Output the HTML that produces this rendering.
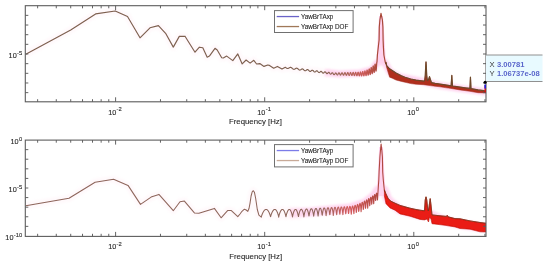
<!DOCTYPE html><html><head><meta charset="utf-8"><style>html,body{margin:0;padding:0;background:#fff;overflow:hidden}svg{display:block} text{font-family:"Liberation Sans",sans-serif;fill:#262626;stroke:#262626;stroke-width:0.1px}</style></head><body>
<svg width="550" height="270" viewBox="0 0 550 270">
<defs><clipPath id="c1"><rect x="25.3" y="5.7" width="460.7" height="96.1"/></clipPath><clipPath id="c2"><rect x="25.3" y="140.1" width="460.7" height="96.3"/></clipPath><filter id="gb" x="0" y="0" width="550" height="270" filterUnits="userSpaceOnUse"><feGaussianBlur stdDeviation="0.35"/></filter><filter id="blr2" x="-50%" y="-10%" width="200%" height="120%"><feGaussianBlur stdDeviation="0.7"/></filter><filter id="blr" x="-20%" y="-20%" width="140%" height="140%"><feGaussianBlur stdDeviation="1.2"/></filter><linearGradient id="g1" gradientUnits="userSpaceOnUse" x1="320" y1="0" x2="378" y2="0"><stop offset="0" stop-color="#7e6050"/><stop offset="0.35" stop-color="#a06a5a"/><stop offset="0.75" stop-color="#cc5a58"/><stop offset="1" stop-color="#a84838"/></linearGradient><linearGradient id="g2" gradientUnits="userSpaceOnUse" x1="320" y1="0" x2="378" y2="0"><stop offset="0" stop-color="#946a60"/><stop offset="0.5" stop-color="#d45c5c"/><stop offset="1" stop-color="#b04840"/></linearGradient></defs>
<rect width="550" height="270" fill="#fff"/>
<g filter="url(#gb)">
<g clip-path="url(#c1)">
<path d="M325.00 72.50 L340.00 74.00 L360.00 73.00 L372.00 70.00 L377.00 63.00 L380.00 62.00 L384.50 62.00 L390.00 72.00 L400.00 77.00 L420.00 81.00 L440.00 85.50 L460.00 88.50 L486.00 92.00" fill="none" stroke="#ffc6ea" stroke-width="7" stroke-linejoin="round" opacity="0.75" filter="url(#blr)"/>
<path d="M376.2 63 L377.6 40 L379 16 L383 16 L384.6 40 L386 63 Z" fill="#ffd2ee" filter="url(#blr2)"/>
<path d="M25.80 54.20 L70.70 30.00 L95.60 13.90 L115.20 11.00 L127.50 16.50 L140.00 37.80 L150.00 27.80 L158.40 25.60 L165.60 33.30 L173.30 47.10 L179.30 36.40 L185.00 36.20 L195.00 52.20 L199.40 47.20 L202.80 47.80 L207.20 57.20 L209.40 56.10 L215.00 48.30 L217.20 50.00 L221.70 57.80 L223.30 58.00 L226.70 56.10 L232.80 60.60 L237.80 53.90 L242.20 63.90 L246.10 60.00 L250.10 63.10 L253.80 60.30 L256.60 64.00 L259.80 63.60 L264.00 66.40 L267.70 65.00 L269.50 65.40 L273.70 68.20 L277.40 66.40 L282.00 69.10 L285.30 67.30 L286.00 67.71 L286.20 67.86 L286.40 68.01 L286.60 68.14 L286.80 68.25 L287.00 68.35 L287.20 68.42 L287.40 68.46 L287.60 68.48 L287.80 68.47 L288.00 68.44 L288.20 68.38 L288.40 68.31 L288.60 68.21 L288.80 68.11 L289.00 67.99 L289.20 67.87 L289.40 67.76 L289.60 67.65 L289.80 67.55 L290.00 67.48 L290.20 67.42 L290.40 67.39 L290.60 67.38 L290.80 67.41 L291.00 67.46 L291.20 67.54 L291.40 67.65 L291.60 67.78 L291.80 67.93 L292.00 68.09 L292.20 68.26 L292.40 68.44 L292.60 68.61 L292.80 68.78 L293.00 68.93 L293.20 69.06 L293.40 69.17 L293.60 69.25 L293.80 69.29 L294.00 69.31 L294.20 69.29 L294.40 69.25 L294.60 69.18 L294.80 69.08 L295.00 68.97 L295.20 68.84 L295.40 68.71 L295.60 68.58 L295.80 68.46 L296.00 68.35 L296.20 68.27 L296.40 68.21 L296.60 68.18 L296.80 68.18 L297.00 68.22 L297.20 68.30 L297.40 68.40 L297.60 68.54 L297.80 68.70 L298.00 68.87 L298.20 69.06 L298.40 69.25 L298.60 69.44 L298.80 69.61 L299.00 69.76 L299.20 69.89 L299.40 69.99 L299.60 70.04 L299.80 70.07 L300.00 70.05 L300.20 70.00 L300.40 69.92 L300.60 69.81 L300.80 69.68 L301.00 69.54 L301.20 69.39 L301.40 69.25 L301.60 69.12 L301.80 69.02 L302.00 68.95 L302.20 68.91 L302.40 68.91 L302.60 68.95 L302.80 69.04 L303.00 69.16 L303.20 69.31 L303.40 69.49 L303.60 69.68 L303.80 69.89 L304.00 70.09 L304.20 70.28 L304.40 70.45 L304.60 70.59 L304.80 70.69 L305.00 70.75 L305.20 70.76 L305.40 70.74 L305.60 70.67 L305.80 70.56 L306.00 70.43 L306.20 70.28 L306.40 70.12 L306.60 69.97 L306.80 69.82 L307.00 69.71 L307.20 69.63 L307.40 69.58 L307.60 69.59 L307.80 69.64 L308.00 69.74 L308.20 69.88 L308.40 70.05 L308.60 70.26 L308.80 70.47 L309.00 70.69 L309.20 70.90 L309.40 71.08 L309.60 71.23 L309.80 71.34 L310.00 71.40 L310.20 71.41 L310.40 71.37 L310.60 71.28 L310.80 71.15 L311.00 71.00 L311.20 70.83 L311.40 70.66 L311.60 70.50 L311.80 70.36 L312.00 70.26 L312.20 70.21 L312.40 70.21 L312.60 70.27 L312.80 70.38 L313.00 70.53 L313.20 70.73 L313.40 70.95 L313.60 71.18 L313.80 71.40 L314.00 71.61 L314.20 71.79 L314.40 71.92 L314.60 71.99 L314.80 72.01 L315.00 71.97 L315.20 71.88 L315.40 71.74 L315.60 71.57 L315.80 71.39 L316.00 71.20 L316.20 71.04 L316.40 70.90 L316.60 70.82 L316.80 70.79 L317.00 70.82 L317.20 70.92 L317.40 71.07 L317.60 71.26 L317.80 71.49 L318.00 71.74 L318.20 71.98 L318.40 72.20 L318.60 72.38 L318.80 72.51 L319.00 72.57 L319.20 72.57 L319.40 72.50 L319.60 72.38 L319.80 72.21 L320.00 72.02 L320.20 71.82 L320.40 71.63 L320.60 71.48 L320.80 71.38 L321.00 71.34 L321.20 71.37 L321.40 71.47 L321.60 71.63 L321.80 71.85 L322.00 72.09 L322.20 72.35 L322.40 72.60 L322.60 72.82 L322.80 72.98 L323.00 73.08 L323.20 73.11 L323.40 73.06 L323.60 72.94 L323.80 72.77 L324.00 72.57 L324.20 72.35 L324.40 72.15 L324.60 71.99 L324.80 71.89 L325.00 71.85 L325.20 71.90 L325.40 72.02 L325.60 72.21 L325.80 72.45 L326.00 72.72 L326.20 72.99 L326.40 73.24 L326.60 73.43 L326.80 73.56 L327.00 73.61 L327.20 73.57 L327.40 73.46 L327.60 73.28 L327.80 73.07 L328.00 72.84 L328.20 72.63 L328.40 72.46 L328.60 72.36 L328.80 72.34 L329.00 72.41 L329.20 72.57 L329.40 72.79 L329.60 73.06 L329.80 73.35 L330.00 73.62" fill="none" stroke="#ffe6f0" stroke-width="7" stroke-linejoin="round" opacity="0.25" filter="url(#blr)"/>
<path d="M25.80 54.20 L70.70 30.00 L95.60 13.90 L115.20 11.00 L127.50 16.50 L140.00 37.80 L150.00 27.80 L158.40 25.60 L165.60 33.30 L173.30 47.10 L179.30 36.40 L185.00 36.20 L195.00 52.20 L199.40 47.20 L202.80 47.80 L207.20 57.20 L209.40 56.10 L215.00 48.30 L217.20 50.00 L221.70 57.80 L223.30 58.00 L226.70 56.10 L232.80 60.60 L237.80 53.90 L242.20 63.90 L246.10 60.00 L250.10 63.10 L253.80 60.30 L256.60 64.00 L259.80 63.60 L264.00 66.40 L267.70 65.00 L269.50 65.40 L273.70 68.20 L277.40 66.40 L282.00 69.10 L285.30 67.30 L286.00 67.71 L286.20 67.86 L286.40 68.01 L286.60 68.14 L286.80 68.25 L287.00 68.35 L287.20 68.42 L287.40 68.46 L287.60 68.48 L287.80 68.47 L288.00 68.44 L288.20 68.38 L288.40 68.31 L288.60 68.21 L288.80 68.11 L289.00 67.99 L289.20 67.87 L289.40 67.76 L289.60 67.65 L289.80 67.55 L290.00 67.48 L290.20 67.42 L290.40 67.39 L290.60 67.38 L290.80 67.41 L291.00 67.46 L291.20 67.54 L291.40 67.65 L291.60 67.78 L291.80 67.93 L292.00 68.09 L292.20 68.26 L292.40 68.44 L292.60 68.61 L292.80 68.78 L293.00 68.93 L293.20 69.06 L293.40 69.17 L293.60 69.25 L293.80 69.29 L294.00 69.31 L294.20 69.29 L294.40 69.25 L294.60 69.18 L294.80 69.08 L295.00 68.97 L295.20 68.84 L295.40 68.71 L295.60 68.58 L295.80 68.46 L296.00 68.35 L296.20 68.27 L296.40 68.21 L296.60 68.18 L296.80 68.18 L297.00 68.22 L297.20 68.30 L297.40 68.40 L297.60 68.54 L297.80 68.70 L298.00 68.87 L298.20 69.06 L298.40 69.25 L298.60 69.44 L298.80 69.61 L299.00 69.76 L299.20 69.89 L299.40 69.99 L299.60 70.04 L299.80 70.07 L300.00 70.05 L300.20 70.00 L300.40 69.92 L300.60 69.81 L300.80 69.68 L301.00 69.54 L301.20 69.39 L301.40 69.25 L301.60 69.12 L301.80 69.02 L302.00 68.95 L302.20 68.91 L302.40 68.91 L302.60 68.95 L302.80 69.04 L303.00 69.16 L303.20 69.31 L303.40 69.49 L303.60 69.68 L303.80 69.89 L304.00 70.09 L304.20 70.28 L304.40 70.45 L304.60 70.59 L304.80 70.69 L305.00 70.75 L305.20 70.76 L305.40 70.74 L305.60 70.67 L305.80 70.56 L306.00 70.43 L306.20 70.28 L306.40 70.12 L306.60 69.97 L306.80 69.82 L307.00 69.71 L307.20 69.63 L307.40 69.58 L307.60 69.59 L307.80 69.64 L308.00 69.74 L308.20 69.88 L308.40 70.05 L308.60 70.26 L308.80 70.47 L309.00 70.69 L309.20 70.90 L309.40 71.08 L309.60 71.23 L309.80 71.34 L310.00 71.40 L310.20 71.41 L310.40 71.37 L310.60 71.28 L310.80 71.15 L311.00 71.00 L311.20 70.83 L311.40 70.66 L311.60 70.50 L311.80 70.36 L312.00 70.26 L312.20 70.21 L312.40 70.21 L312.60 70.27 L312.80 70.38 L313.00 70.53 L313.20 70.73 L313.40 70.95 L313.60 71.18 L313.80 71.40 L314.00 71.61 L314.20 71.79 L314.40 71.92 L314.60 71.99 L314.80 72.01 L315.00 71.97 L315.20 71.88 L315.40 71.74 L315.60 71.57 L315.80 71.39 L316.00 71.20 L316.20 71.04 L316.40 70.90 L316.60 70.82 L316.80 70.79 L317.00 70.82 L317.20 70.92 L317.40 71.07 L317.60 71.26 L317.80 71.49 L318.00 71.74 L318.20 71.98 L318.40 72.20 L318.60 72.38 L318.80 72.51 L319.00 72.57 L319.20 72.57 L319.40 72.50 L319.60 72.38 L319.80 72.21 L320.00 72.02 L320.20 71.82 L320.40 71.63 L320.60 71.48 L320.80 71.38 L321.00 71.34" fill="none" stroke="#7e6050" stroke-width="1.15" stroke-linejoin="round"/>
<path d="M321.00 71.34 L321.20 71.37 L321.40 71.47 L321.60 71.63 L321.80 71.85 L322.00 72.09 L322.20 72.35 L322.40 72.60 L322.60 72.82 L322.80 72.98 L323.00 73.08 L323.20 73.11 L323.40 73.06 L323.60 72.94 L323.80 72.77 L324.00 72.57 L324.20 72.35 L324.40 72.15 L324.60 71.99 L324.80 71.89 L325.00 71.85 L325.20 71.90 L325.40 72.02 L325.60 72.21 L325.80 72.45 L326.00 72.72 L326.20 72.99 L326.40 73.24 L326.60 73.43 L326.80 73.56 L327.00 73.61 L327.20 73.57 L327.40 73.46 L327.60 73.28 L327.80 73.07 L328.00 72.84 L328.20 72.63 L328.40 72.46 L328.60 72.36 L328.80 72.34 L329.00 72.41 L329.20 72.57 L329.40 72.79 L329.60 73.06 L329.80 73.35 L330.00 73.62 L330.20 73.85 L330.40 74.02 L330.60 74.10 L330.80 74.08 L331.00 73.98 L331.20 73.79 L331.40 73.55 L331.60 73.29 L331.80 73.04 L332.00 72.85 L332.20 72.74 L332.40 72.73 L332.60 72.82 L332.80 73.03 L333.00 73.31 L333.20 73.65 L333.40 73.99 L333.60 74.30 L333.80 74.53 L334.00 74.66 L334.20 74.67 L334.40 74.56 L334.60 74.34 L334.80 74.05 L335.00 73.73 L335.20 73.40 L335.40 73.13 L335.60 72.97 L335.80 72.94 L336.00 73.05 L336.20 73.29 L336.40 73.62 L336.60 74.00 L336.80 74.37 L337.00 74.68 L337.20 74.88 L337.40 74.94 L337.60 74.84 L337.80 74.59 L338.00 74.24 L338.20 73.84 L338.40 73.43 L338.60 73.10 L338.80 72.89 L339.00 72.83 L339.20 72.95 L339.40 73.23 L339.60 73.62 L339.80 74.06 L340.00 74.49 L340.20 74.84 L340.40 75.03 L340.60 75.05 L340.80 74.88 L341.00 74.55 L341.20 74.11 L341.40 73.63 L341.60 73.19 L341.80 72.88 L342.00 72.73 L342.20 72.80 L342.40 73.06 L342.60 73.47 L342.80 73.98 L343.00 74.48 L343.20 74.90 L343.40 75.15 L343.60 75.18 L343.80 74.99 L344.00 74.61 L344.20 74.10 L344.40 73.55 L344.60 73.07 L344.80 72.74 L345.00 72.63 L345.20 72.77 L345.40 73.13 L345.60 73.65 L345.80 74.24 L346.00 74.78 L346.20 75.16 L346.40 75.31 L346.60 75.20 L346.80 74.85 L347.00 74.31 L347.20 73.69 L347.40 73.12 L347.60 72.70 L347.80 72.54 L348.00 72.66 L348.20 73.05 L348.40 73.63 L348.60 74.28 L348.80 74.88 L349.00 75.29 L349.20 75.43 L349.40 75.26 L349.60 74.81 L349.80 74.18 L350.00 73.49 L350.20 72.90 L350.40 72.54 L350.60 72.48 L350.80 72.76 L351.00 73.30 L351.20 73.99 L351.40 74.68 L351.60 75.22 L351.80 75.48 L352.00 75.41 L352.20 75.00 L352.40 74.36 L352.60 73.62 L352.80 72.96 L353.00 72.53 L353.20 72.43 L353.40 72.70 L353.60 73.27 L353.80 74.02 L354.00 74.77 L354.20 75.34 L354.40 75.59 L354.60 75.45 L354.80 74.94 L355.00 74.20 L355.20 73.39 L355.40 72.71 L355.60 72.35 L355.80 72.40 L356.00 72.85 L356.20 73.60 L356.40 74.46 L356.60 75.22 L356.80 75.67 L357.00 75.69 L357.20 75.26 L357.40 74.50 L357.60 73.58 L357.80 72.76 L358.00 72.26 L358.20 72.22 L358.40 72.66 L358.60 73.48 L358.80 74.45 L359.00 75.32 L359.20 75.83 L359.40 75.84 L359.60 75.33 L359.80 74.42 L360.00 73.37 L360.20 72.47 L360.40 71.98 L360.60 72.05 L360.80 72.67 L361.00 73.67 L361.20 74.77 L361.40 75.63 L361.60 75.99 L361.80 75.72 L362.00 74.89 L362.20 73.72 L362.40 72.56 L362.60 71.74 L362.80 71.53 L363.00 72.00 L363.20 73.01 L363.40 74.25 L363.60 75.33 L363.80 75.89 L364.00 75.73 L364.20 74.87 L364.40 73.55 L364.60 72.18 L364.80 71.18 L365.00 70.88 L365.20 71.38 L365.40 72.52 L365.60 73.92 L365.80 75.11 L366.00 75.66 L366.20 75.35 L366.40 74.24 L366.60 72.67 L366.80 71.14 L367.00 70.16 L367.20 70.06 L367.40 70.88 L367.60 72.32 L367.80 73.87 L368.00 74.96 L368.20 75.16 L368.40 74.34 L368.60 72.74 L368.80 70.89 L369.00 69.42 L369.20 68.85 L369.40 69.37 L369.60 70.79 L369.80 72.57 L370.00 74.01 L370.20 74.53 L370.40 73.85 L370.60 72.18 L370.80 70.06 L371.00 68.27 L371.20 67.46 L371.40 67.92 L371.60 69.45 L371.80 71.45 L372.00 73.07 L372.20 73.62 L372.40 72.79 L372.60 70.83 L372.80 68.43 L373.00 66.51 L373.20 65.79 L373.40 66.55 L373.60 68.43 L373.80 70.64 L374.00 72.20 L374.20 72.36 L374.40 70.96 L374.60 68.47 L374.80 65.86 L375.00 64.16 L375.20 64.05 L375.40 65.54 L375.60 67.94 L375.80 70.16 L376.00 71.12 L376.20 70.30 L376.40 67.91 L376.60 64.90 L376.80 62.51 L377.00 61.74 L377.40 55.00 L378.30 47.00 L379.10 40.00 L379.30 27.00 L379.90 20.00 L381.00 13.30 L382.40 20.00 L382.90 27.00 L383.10 40.00 L383.40 47.00 L383.90 55.00 L385.00 61.00 L385.80 64.00" fill="none" stroke="url(#g1)" stroke-width="1.2" stroke-linejoin="round"/>
<path d="M385.80 62.00 L386.70 65.60 L389.60 68.80 L392.30 70.60 L396.00 73.00 L401.50 75.90 L405.00 77.20 L410.80 79.00 L416.00 80.10 L423.70 81.10 L424.70 80.60 L425.30 75.00 L425.70 66.00 L426.00 61.90 L426.30 66.00 L426.70 75.00 L427.40 80.60 L428.60 79.50 L429.50 76.60 L430.40 79.50 L431.50 82.60 L435.00 83.30 L440.00 84.10 L445.00 84.80 L451.10 85.80 L451.50 80.00 L451.80 75.40 L452.10 80.00 L452.50 86.00 L455.00 86.40 L460.00 87.10 L465.00 87.80 L469.90 88.40 L470.20 82.00 L470.45 77.20 L470.70 82.00 L471.00 88.60 L478.00 89.90 L484.00 90.70 L487.00 91.00 L487.00 93.00 L478.00 92.70 L470.00 91.30 L460.00 89.90 L450.00 88.30 L445.00 87.60 L440.00 86.80 L435.00 86.20 L430.00 85.60 L423.70 84.70 L416.00 84.20 L410.80 83.60 L401.50 81.40 L396.00 80.00 L392.30 78.20 L389.60 77.20 L388.00 72.00 L386.50 67.00Z" fill="#b02e1e" stroke="#a02c1c" stroke-width="0.5" stroke-linejoin="round"/>
<path d="M385.80 62.00 L386.70 65.60 L389.60 68.80 L392.30 70.60 L396.00 73.00 L401.50 75.90 L405.00 77.20 L410.80 79.00 L416.00 80.10 L423.70 81.10 L424.70 80.60 L425.30 75.00 L425.70 66.00 L426.00 61.90 L426.30 66.00 L426.70 75.00 L427.40 80.60 L428.60 79.50 L429.50 76.60 L430.40 79.50 L431.50 82.60 L435.00 83.30 L440.00 84.10 L445.00 84.80 L451.10 85.80 L451.50 80.00 L451.80 75.40 L452.10 80.00 L452.50 86.00 L455.00 86.40 L460.00 87.10 L465.00 87.80 L469.90 88.40 L470.20 82.00 L470.45 77.20 L470.70 82.00 L471.00 88.60 L478.00 89.90 L484.00 90.70 L487.00 91.00" fill="none" stroke="#6e4a2c" stroke-width="1.2" stroke-linejoin="round"/>
</g>
<g clip-path="url(#c2)">
<path d="M290.00 213.00 L310.00 212.00 L330.00 210.00 L350.00 208.00 L365.00 203.00 L374.00 196.00 L378.00 190.00 L384.00 190.00 L388.00 200.00 L400.00 210.00 L420.00 215.00 L430.00 214.00 L445.00 221.00 L465.00 225.00 L486.00 228.00" fill="none" stroke="#ffc6ea" stroke-width="9" stroke-linejoin="round" opacity="0.7" filter="url(#blr)"/>
<path d="M376.2 196 L377.8 175 L379.2 147 L383 147 L384.4 175 L386 196 Z" fill="#ffd2ee" filter="url(#blr2)"/>
<path d="M25.80 205.80 L69.00 198.20 L95.10 182.20 L113.60 179.20 L128.00 185.40 L140.50 204.40 L151.10 197.10 L158.90 194.40 L173.30 210.70 L180.00 201.80 L184.40 201.10 L194.40 212.90 L198.90 213.30 L214.40 208.40 L221.10 217.80 L227.80 210.40 L231.10 210.40 L237.80 216.70 L240.00 214.00 L242.00 211.30 L244.40 209.20 L246.20 210.00 L247.80 211.40 L249.00 208.50 L250.00 203.30 L251.10 196.00 L252.20 191.80 L253.30 190.70 L254.40 192.20 L255.60 198.00 L256.50 204.00 L257.30 209.50 L258.90 215.20 L261.30 217.09 L261.50 216.25 L261.70 215.58 L261.90 214.99 L262.10 214.46 L262.30 213.96 L262.50 213.50 L262.70 213.06 L262.90 212.65 L263.10 212.27 L263.30 211.91 L263.50 211.57 L263.70 211.26 L263.90 210.97 L264.10 210.70 L264.30 210.46 L264.50 210.24 L264.70 210.05 L264.90 209.88 L265.10 209.73 L265.30 209.62 L265.50 209.52 L265.70 209.45 L265.90 209.41 L266.10 209.40 L266.30 209.41 L266.50 209.45 L266.70 209.52 L266.90 209.62 L267.10 209.74 L267.30 209.89 L267.50 210.07 L267.70 210.28 L267.90 210.51 L268.10 210.77 L268.30 211.07 L268.50 211.39 L268.70 211.74 L268.90 212.12 L269.10 212.53 L269.30 212.97 L269.50 213.44 L269.70 213.96 L269.90 214.52 L270.10 215.13 L270.30 215.82 L270.50 216.68 L270.70 216.43 L270.90 215.62 L271.10 214.95 L271.30 214.34 L271.50 213.78 L271.70 213.27 L271.90 212.79 L272.10 212.34 L272.30 211.93 L272.50 211.54 L272.70 211.19 L272.90 210.86 L273.10 210.57 L273.30 210.31 L273.50 210.08 L273.70 209.88 L273.90 209.72 L274.10 209.59 L274.30 209.49 L274.50 209.43 L274.70 209.40 L274.90 209.41 L275.10 209.45 L275.30 209.53 L275.50 209.64 L275.70 209.79 L275.90 209.97 L276.10 210.20 L276.30 210.45 L276.50 210.75 L276.70 211.08 L276.90 211.44 L277.10 211.85 L277.30 212.29 L277.50 212.77 L277.70 213.30 L277.90 213.87 L278.10 214.49 L278.30 215.19 L278.50 216.00 L278.70 217.16 L278.90 216.01 L279.10 215.20 L279.30 214.49 L279.50 213.85 L279.70 213.27 L279.90 212.73 L280.10 212.23 L280.30 211.78 L280.50 211.36 L280.70 210.98 L280.90 210.64 L281.10 210.34 L281.30 210.08 L281.50 209.86 L281.70 209.68 L281.90 209.55 L282.10 209.46 L282.30 209.41 L282.50 209.40 L282.70 209.44 L282.90 209.53 L283.10 209.66 L283.30 209.83 L283.50 210.05 L283.70 210.31 L283.90 210.62 L284.10 210.98 L284.30 211.38 L284.50 211.82 L284.70 212.32 L284.90 212.86 L285.10 213.46 L285.30 214.12 L285.50 214.85 L285.70 215.69 L285.90 216.76 L286.10 216.14 L286.30 215.21 L286.50 214.43 L286.70 213.73 L286.90 213.09 L287.10 212.51 L287.30 211.98 L287.50 211.50 L287.70 211.06 L287.90 210.68 L288.10 210.34 L288.30 210.06 L288.50 209.82 L288.70 209.64 L288.90 209.50 L289.10 209.43 L289.30 209.40 L289.50 209.43 L289.70 209.51 L289.90 209.65 L290.10 209.84 L290.30 210.09 L290.50 210.40 L290.70 210.75 L290.90 211.17 L291.10 211.64 L291.30 212.17 L291.50 212.76 L291.70 213.41 L291.90 214.13 L292.10 214.94 L292.30 215.90 L292.50 216.98 L292.70 215.71 L292.90 214.78 L293.10 213.98 L293.30 213.25 L293.50 212.60 L293.70 212.01 L293.90 211.48 L294.10 211.01 L294.30 210.59 L294.50 210.24 L294.70 209.95 L294.90 209.72 L295.10 209.55 L295.30 209.44 L295.50 209.40 L295.70 209.42 L295.90 209.51 L296.10 209.67 L296.30 209.89 L296.50 210.18 L296.70 210.53 L296.90 210.96 L297.10 211.44 L297.30 212.00 L297.50 212.62 L297.70 213.32 L297.90 214.11 L298.10 215.00 L298.30 216.07 L298.50 216.58 L298.70 215.37 L298.90 214.42 L299.10 213.59 L299.30 212.84 L299.50 212.18 L299.70 211.58 L299.90 211.06" fill="none" stroke="#ffe6f0" stroke-width="7" stroke-linejoin="round" opacity="0.25" filter="url(#blr)"/>
<path d="M25.80 205.80 L69.00 198.20 L95.10 182.20 L113.60 179.20 L128.00 185.40 L140.50 204.40 L151.10 197.10 L158.90 194.40 L173.30 210.70 L180.00 201.80 L184.40 201.10 L194.40 212.90 L198.90 213.30 L214.40 208.40 L221.10 217.80 L227.80 210.40 L231.10 210.40 L237.80 216.70 L240.00 214.00 L242.00 211.30 L244.40 209.20 L246.20 210.00 L247.80 211.40 L249.00 208.50 L250.00 203.30 L251.10 196.00 L252.20 191.80 L253.30 190.70 L254.40 192.20 L255.60 198.00 L256.50 204.00 L257.30 209.50 L258.90 215.20 L261.30 217.09 L261.50 216.25 L261.70 215.58 L261.90 214.99 L262.10 214.46 L262.30 213.96 L262.50 213.50 L262.70 213.06 L262.90 212.65 L263.10 212.27 L263.30 211.91 L263.50 211.57 L263.70 211.26 L263.90 210.97 L264.10 210.70 L264.30 210.46 L264.50 210.24 L264.70 210.05 L264.90 209.88 L265.10 209.73 L265.30 209.62 L265.50 209.52 L265.70 209.45 L265.90 209.41 L266.10 209.40 L266.30 209.41 L266.50 209.45 L266.70 209.52 L266.90 209.62 L267.10 209.74 L267.30 209.89 L267.50 210.07 L267.70 210.28 L267.90 210.51 L268.10 210.77 L268.30 211.07 L268.50 211.39 L268.70 211.74 L268.90 212.12 L269.10 212.53 L269.30 212.97 L269.50 213.44 L269.70 213.96 L269.90 214.52 L270.10 215.13 L270.30 215.82 L270.50 216.68 L270.70 216.43 L270.90 215.62 L271.10 214.95 L271.30 214.34 L271.50 213.78 L271.70 213.27 L271.90 212.79 L272.10 212.34 L272.30 211.93 L272.50 211.54 L272.70 211.19 L272.90 210.86 L273.10 210.57 L273.30 210.31 L273.50 210.08 L273.70 209.88 L273.90 209.72 L274.10 209.59 L274.30 209.49 L274.50 209.43 L274.70 209.40 L274.90 209.41 L275.10 209.45 L275.30 209.53 L275.50 209.64 L275.70 209.79 L275.90 209.97 L276.10 210.20 L276.30 210.45 L276.50 210.75 L276.70 211.08 L276.90 211.44 L277.10 211.85 L277.30 212.29 L277.50 212.77 L277.70 213.30 L277.90 213.87 L278.10 214.49 L278.30 215.19 L278.50 216.00 L278.70 217.16 L278.90 216.01 L279.10 215.20 L279.30 214.49 L279.50 213.85 L279.70 213.27 L279.90 212.73 L280.10 212.23 L280.30 211.78 L280.50 211.36 L280.70 210.98 L280.90 210.64 L281.10 210.34 L281.30 210.08 L281.50 209.86 L281.70 209.68 L281.90 209.55 L282.10 209.46 L282.30 209.41 L282.50 209.40 L282.70 209.44 L282.90 209.53 L283.10 209.66 L283.30 209.83 L283.50 210.05 L283.70 210.31 L283.90 210.62 L284.10 210.98 L284.30 211.38 L284.50 211.82 L284.70 212.32 L284.90 212.86 L285.10 213.46 L285.30 214.12 L285.50 214.85 L285.70 215.69 L285.90 216.76 L286.10 216.14 L286.30 215.21 L286.50 214.43 L286.70 213.73 L286.90 213.09 L287.10 212.51 L287.30 211.98 L287.50 211.50 L287.70 211.06 L287.90 210.68 L288.10 210.34 L288.30 210.06 L288.50 209.82 L288.70 209.64 L288.90 209.50 L289.10 209.43 L289.30 209.40 L289.50 209.43 L289.70 209.51 L289.90 209.65 L290.10 209.84 L290.30 210.09 L290.50 210.40 L290.70 210.75 L290.90 211.17 L291.10 211.64 L291.30 212.17 L291.50 212.76 L291.70 213.41 L291.90 214.13 L292.10 214.94 L292.30 215.90 L292.50 216.98 L292.70 215.71 L292.90 214.78 L293.10 213.98 L293.30 213.25 L293.50 212.60 L293.70 212.01 L293.90 211.48 L294.10 211.01 L294.30 210.59 L294.50 210.24 L294.70 209.95 L294.90 209.72 L295.10 209.55 L295.30 209.44 L295.50 209.40 L295.70 209.42 L295.90 209.51 L296.10 209.67 L296.30 209.89 L296.50 210.18 L296.70 210.53 L296.90 210.96 L297.10 211.44 L297.30 212.00 L297.50 212.62 L297.70 213.32 L297.90 214.11 L298.10 215.00 L298.30 216.07 L298.50 216.58 L298.70 215.37 L298.90 214.42 L299.10 213.59 L299.30 212.84 L299.50 212.18 L299.70 211.58 L299.90 211.06 L300.10 210.60 L300.30 210.20 L300.50 209.88 L300.70 209.63 L300.90 209.45 L301.10 209.35 L301.30 209.33 L301.50 209.38 L301.70 209.51 L301.90 209.73 L302.10 210.01 L302.30 210.38 L302.50 210.83 L302.70 211.36 L302.90 211.97 L303.10 212.66 L303.30 213.44 L303.50 214.34 L303.70 215.38 L303.90 216.86 L304.10 215.47 L304.30 214.37 L304.50 213.44 L304.70 212.61 L304.90 211.87 L305.10 211.21 L305.30 210.64 L305.50 210.16 L305.70 209.75 L305.90 209.43 L306.10 209.20 L306.30 209.06 L306.50 209.01 L306.70 209.05 L306.90 209.18 L307.10 209.41 L307.30 209.72 L307.50 210.13 L307.70 210.63 L307.90 211.23 L308.10 211.92 L308.30 212.71 L308.50 213.62 L308.70 214.68 L308.90 216.01 L309.10 215.55 L309.30 214.30 L309.50 213.26 L309.70 212.36 L309.90 211.56 L310.10 210.86 L310.30 210.25 L310.50 209.75 L310.70 209.34 L310.90 209.03 L311.10 208.83 L311.30 208.73 L311.50 208.73 L311.70 208.85 L311.90 209.07 L312.10 209.40 L312.30 209.83 L312.50 210.37 L312.70 211.03 L312.90 211.79 L313.10 212.67 L313.30 213.69 L313.50 214.91 L313.70 216.24 L313.90 214.62 L314.10 213.41 L314.30 212.39 L314.50 211.49 L314.70 210.72 L314.90 210.05 L315.10 209.50 L315.30 209.06 L315.50 208.73 L315.70 208.53 L315.90 208.45 L316.10 208.49 L316.30 208.65 L316.50 208.93 L316.70 209.34 L316.90 209.88 L317.10 210.53 L317.30 211.32 L317.50 212.23 L317.70 213.30 L317.90 214.59 L318.10 216.08 L318.30 214.33 L318.50 213.06 L318.70 211.98 L318.90 211.05 L319.10 210.25 L319.30 209.58 L319.50 209.03 L319.70 208.62 L319.90 208.35 L320.10 208.21 L320.30 208.21 L320.50 208.35 L320.70 208.63 L320.90 209.05" fill="none" stroke="#8e665c" stroke-width="1.05" stroke-linejoin="round"/>
<path d="M320.90 209.05 L321.10 209.61 L321.30 210.32 L321.50 211.16 L321.70 212.17 L321.90 213.35 L322.10 214.81 L322.30 215.16 L322.50 213.58 L322.70 212.32 L322.90 211.25 L323.10 210.33 L323.30 209.56 L323.50 208.94 L323.70 208.47 L323.90 208.14 L324.10 207.97 L324.30 207.96 L324.50 208.11 L324.70 208.42 L324.90 208.89 L325.10 209.51 L325.30 210.30 L325.50 211.25 L325.70 212.38 L325.90 213.73 L326.10 215.60 L326.30 214.05 L326.50 212.59 L326.70 211.38 L326.90 210.36 L327.10 209.50 L327.30 208.81 L327.50 208.28 L327.70 207.93 L327.90 207.74 L328.10 207.74 L328.30 207.91 L328.50 208.27 L328.70 208.80 L328.90 209.51 L329.10 210.40 L329.30 211.48 L329.50 212.77 L329.70 214.39 L329.90 214.63 L330.10 212.92 L330.30 211.56 L330.50 210.41 L330.70 209.46 L330.90 208.70 L331.10 208.12 L331.30 207.72 L331.50 207.53 L331.70 207.53 L331.90 207.73 L332.10 208.13 L332.30 208.73 L332.50 209.53 L332.70 210.54 L332.90 211.75 L333.10 213.24 L333.30 215.33 L333.50 213.48 L333.70 211.91 L333.90 210.62 L334.10 209.55 L334.30 208.68 L334.50 208.02 L334.70 207.57 L334.90 207.34 L335.10 207.32 L335.30 207.53 L335.50 207.96 L335.70 208.61 L335.90 209.48 L336.10 210.57 L336.30 211.91 L336.50 213.58 L336.70 214.65 L336.90 212.65 L337.10 211.13 L337.30 209.88 L337.50 208.87 L337.70 208.07 L337.90 207.51 L338.10 207.19 L338.30 207.11 L338.50 207.27 L338.70 207.68 L338.90 208.33 L339.10 209.22 L339.30 210.36 L339.50 211.77 L339.70 213.55 L339.90 214.22 L340.10 212.23 L340.30 210.69 L340.50 209.43 L340.70 208.43 L340.90 207.67 L341.10 207.17 L341.30 206.94 L341.50 206.97 L341.70 207.27 L341.90 207.84 L342.10 208.67 L342.30 209.78 L342.50 211.17 L342.70 212.91 L342.90 214.63 L343.10 212.35 L343.30 210.68 L343.50 209.34 L343.70 208.27 L343.90 207.48 L344.10 206.97 L344.30 206.75 L344.50 206.82 L344.70 207.18 L344.90 207.84 L345.10 208.79 L345.30 210.04 L345.50 211.61 L345.70 213.66 L345.90 213.31 L346.10 211.33 L346.30 209.77 L346.50 208.52 L346.70 207.58 L346.90 206.94 L347.10 206.61 L347.30 206.60 L347.50 206.91 L347.70 207.54 L347.90 208.49 L348.10 209.76 L348.30 211.38 L348.50 213.51 L348.70 213.10 L348.90 211.05 L349.10 209.45 L349.30 208.20 L349.50 207.27 L349.70 206.67 L349.90 206.41 L350.10 206.51 L350.30 206.94 L350.50 207.72 L350.70 208.85 L350.90 210.33 L351.10 212.24 L351.30 214.21 L351.50 211.64 L351.70 209.78 L351.90 208.31 L352.10 207.20 L352.30 206.44 L352.50 206.05 L352.70 206.04 L352.90 206.41 L353.10 207.17 L353.30 208.31 L353.50 209.85 L353.70 211.86 L353.90 213.65 L354.10 210.98 L354.30 209.03 L354.50 207.50 L354.70 206.36 L354.90 205.62 L355.10 205.29 L355.30 205.38 L355.50 205.89 L355.70 206.83 L355.90 208.20 L356.10 210.02 L356.30 212.52 L356.50 211.43 L356.70 209.09 L356.90 207.27 L357.10 205.89 L357.30 204.94 L357.50 204.44 L357.70 204.41 L357.90 204.83 L358.10 205.73 L358.30 207.08 L358.50 208.93 L358.70 211.45 L358.90 210.72 L359.10 208.22 L359.30 206.29 L359.50 204.85 L359.70 203.88 L359.90 203.40 L360.10 203.42 L360.30 203.94 L360.50 204.97 L360.70 206.51 L360.90 208.59 L361.10 211.71 L361.30 208.73 L361.50 206.36 L361.70 204.55 L361.90 203.25 L362.10 202.47 L362.30 202.23 L362.50 202.53 L362.70 203.37 L362.90 204.75 L363.10 206.69 L363.30 209.39 L363.50 208.43 L363.70 205.76 L363.90 203.75 L364.10 202.28 L364.30 201.38 L364.50 201.04 L364.70 201.29 L364.90 202.12 L365.10 203.52 L365.30 205.51 L365.50 208.32 L365.70 207.01 L365.90 204.32 L366.10 202.30 L366.30 200.87 L366.50 200.03 L366.70 199.81 L366.90 200.20 L367.10 201.20 L367.30 202.81 L367.50 205.07 L367.70 208.17 L367.90 204.54 L368.10 202.09 L368.30 200.28 L368.50 199.10 L368.70 198.56 L368.90 198.66 L369.10 199.41 L369.30 200.79 L369.50 202.83 L369.70 205.76 L369.90 204.07 L370.10 201.34 L370.30 199.34 L370.50 197.98 L370.70 197.29 L370.90 197.28 L371.10 197.94 L371.30 199.27 L371.50 201.26 L371.70 204.16 L371.90 202.69 L372.10 199.92 L372.30 197.90 L372.50 196.56 L372.70 195.92 L372.90 195.97 L373.10 196.73 L373.30 198.17 L373.50 200.32 L373.70 203.65 L373.90 200.40 L374.10 197.84 L374.30 196.02 L374.50 194.89 L374.70 194.49 L374.90 194.81 L375.10 195.85 L375.30 197.59 L375.50 200.13 L375.70 200.49 L375.90 197.46 L376.10 195.31 L376.30 193.88 L376.50 193.18 L376.70 193.22 L376.90 194.00 L377.10 195.50 L377.30 197.76 L377.50 199.95 L377.70 196.55 L378.30 187.00 L378.80 180.00 L379.10 172.00 L379.90 157.00 L380.50 150.00 L381.10 144.00 L381.80 150.00 L382.40 157.00 L382.70 172.00 L383.30 180.00 L384.00 187.00 L384.60 192.00" fill="none" stroke="url(#g2)" stroke-width="1.1" stroke-linejoin="round"/>
<path d="M384.40 189.90 L385.80 193.60 L388.00 198.20 L390.50 201.00 L395.00 203.20 L400.00 205.40 L405.00 206.80 L410.00 208.20 L415.00 209.30 L420.00 210.20 L424.50 210.80 L425.20 200.00 L426.00 196.80 L426.80 200.00 L427.60 208.00 L428.40 211.00 L429.40 204.00 L430.20 198.60 L431.00 205.00 L432.00 214.90 L440.00 215.80 L446.50 216.40 L447.20 215.30 L448.00 216.80 L455.00 218.60 L460.00 218.80 L470.00 220.90 L480.00 222.50 L487.00 223.40 L487.00 232.00 L480.00 231.80 L470.00 229.20 L460.00 228.50 L455.00 226.90 L445.00 225.30 L432.00 223.70 L431.00 219.00 L429.50 217.00 L428.50 222.00 L427.00 219.00 L424.50 219.90 L420.00 219.40 L410.00 216.20 L400.00 213.90 L395.00 210.20 L390.00 207.90 L386.00 203.70 L384.40 196.00Z" fill="#ea1a12" stroke="#c01810" stroke-width="0.6" stroke-linejoin="round"/>
<path d="M384.40 189.90 L385.80 193.60 L388.00 198.20 L390.50 201.00 L395.00 203.20 L400.00 205.40 L405.00 206.80 L410.00 208.20 L415.00 209.30 L420.00 210.20 L424.50 210.80 L425.20 200.00 L426.00 196.80 L426.80 200.00 L427.60 208.00 L428.40 211.00 L429.40 204.00 L430.20 198.60 L431.00 205.00 L432.00 214.90 L440.00 215.80 L446.50 216.40 L447.20 215.30 L448.00 216.80 L455.00 218.60 L460.00 218.80 L470.00 220.90 L480.00 222.50 L487.00 223.40" fill="none" stroke="#7a3a20" stroke-width="0.8" stroke-linejoin="round"/>
</g>
<rect x="25.30" y="5.70" width="460.70" height="96.10" fill="none" stroke="#5c5c5c" stroke-width="1.1"/>
<path d="M37.64 101.80v-2.6M37.64 5.70v2.6M56.27 101.80v-2.6M56.27 5.70v2.6M70.72 101.80v-2.6M70.72 5.70v2.6M82.52 101.80v-2.6M82.52 5.70v2.6M92.50 101.80v-2.6M92.50 5.70v2.6M101.15 101.80v-2.6M101.15 5.70v2.6M108.78 101.80v-2.6M108.78 5.70v2.6M115.60 101.80v-4.5M115.60 5.70v4.5M160.48 101.80v-2.6M160.48 5.70v2.6M186.74 101.80v-2.6M186.74 5.70v2.6M205.37 101.80v-2.6M205.37 5.70v2.6M219.82 101.80v-2.6M219.82 5.70v2.6M231.62 101.80v-2.6M231.62 5.70v2.6M241.60 101.80v-2.6M241.60 5.70v2.6M250.25 101.80v-2.6M250.25 5.70v2.6M257.88 101.80v-2.6M257.88 5.70v2.6M264.70 101.80v-4.5M264.70 5.70v4.5M309.58 101.80v-2.6M309.58 5.70v2.6M335.84 101.80v-2.6M335.84 5.70v2.6M354.47 101.80v-2.6M354.47 5.70v2.6M368.92 101.80v-2.6M368.92 5.70v2.6M380.72 101.80v-2.6M380.72 5.70v2.6M390.70 101.80v-2.6M390.70 5.70v2.6M399.35 101.80v-2.6M399.35 5.70v2.6M406.98 101.80v-2.6M406.98 5.70v2.6M413.80 101.80v-4.5M413.80 5.70v4.5M458.68 101.80v-2.6M458.68 5.70v2.6M484.94 101.80v-2.6M484.94 5.70v2.6M25.30 92.64h3.0M486.00 92.64h-3.0M25.30 82.98h3.0M486.00 82.98h-3.0M25.30 73.32h3.0M486.00 73.32h-3.0M25.30 63.66h3.0M486.00 63.66h-3.0M25.30 54.00h3.0M486.00 54.00h-3.0M25.30 44.34h3.0M486.00 44.34h-3.0M25.30 34.68h3.0M486.00 34.68h-3.0M25.30 25.02h3.0M486.00 25.02h-3.0M25.30 15.36h3.0M486.00 15.36h-3.0" fill="none" stroke="#5c5c5c" stroke-width="0.95"/>
<rect x="25.30" y="140.10" width="460.70" height="96.30" fill="none" stroke="#5c5c5c" stroke-width="1.1"/>
<path d="M37.64 236.40v-2.6M37.64 140.10v2.6M56.27 236.40v-2.6M56.27 140.10v2.6M70.72 236.40v-2.6M70.72 140.10v2.6M82.52 236.40v-2.6M82.52 140.10v2.6M92.50 236.40v-2.6M92.50 140.10v2.6M101.15 236.40v-2.6M101.15 140.10v2.6M108.78 236.40v-2.6M108.78 140.10v2.6M115.60 236.40v-4.5M115.60 140.10v4.5M160.48 236.40v-2.6M160.48 140.10v2.6M186.74 236.40v-2.6M186.74 140.10v2.6M205.37 236.40v-2.6M205.37 140.10v2.6M219.82 236.40v-2.6M219.82 140.10v2.6M231.62 236.40v-2.6M231.62 140.10v2.6M241.60 236.40v-2.6M241.60 140.10v2.6M250.25 236.40v-2.6M250.25 140.10v2.6M257.88 236.40v-2.6M257.88 140.10v2.6M264.70 236.40v-4.5M264.70 140.10v4.5M309.58 236.40v-2.6M309.58 140.10v2.6M335.84 236.40v-2.6M335.84 140.10v2.6M354.47 236.40v-2.6M354.47 140.10v2.6M368.92 236.40v-2.6M368.92 140.10v2.6M380.72 236.40v-2.6M380.72 140.10v2.6M390.70 236.40v-2.6M390.70 140.10v2.6M399.35 236.40v-2.6M399.35 140.10v2.6M406.98 236.40v-2.6M406.98 140.10v2.6M413.80 236.40v-4.5M413.80 140.10v4.5M458.68 236.40v-2.6M458.68 140.10v2.6M484.94 236.40v-2.6M484.94 140.10v2.6M25.30 226.36h3.0M486.00 226.36h-3.0M25.30 216.77h3.0M486.00 216.77h-3.0M25.30 207.18h3.0M486.00 207.18h-3.0M25.30 197.59h3.0M486.00 197.59h-3.0M25.30 188.00h3.0M486.00 188.00h-3.0M25.30 178.41h3.0M486.00 178.41h-3.0M25.30 168.82h3.0M486.00 168.82h-3.0M25.30 159.23h3.0M486.00 159.23h-3.0M25.30 149.64h3.0M486.00 149.64h-3.0" fill="none" stroke="#5c5c5c" stroke-width="0.95"/>
<text x="108.14" y="114.90" font-size="7.3">10</text><text x="116.61" y="111.10" font-size="5.8">-2</text><text x="257.24" y="114.90" font-size="7.3">10</text><text x="265.71" y="111.10" font-size="5.8">-1</text><text x="407.30" y="114.90" font-size="7.3">10</text><text x="415.77" y="111.10" font-size="5.8">0</text>
<text x="108.14" y="249.00" font-size="7.3">10</text><text x="116.61" y="245.70" font-size="5.8">-2</text><text x="257.24" y="249.00" font-size="7.3">10</text><text x="265.71" y="245.70" font-size="5.8">-1</text><text x="407.30" y="249.00" font-size="7.3">10</text><text x="415.77" y="245.70" font-size="5.8">0</text>
<text x="8.58" y="57.80" font-size="7.3">10</text><text x="17.04" y="54.70" font-size="5.8">-5</text>
<text x="10.51" y="143.85" font-size="7.3">10</text><text x="18.98" y="140.75" font-size="5.8">0</text><text x="8.58" y="191.80" font-size="7.3">10</text><text x="17.04" y="188.70" font-size="5.8">-5</text><text x="5.35" y="239.75" font-size="7.3">10</text><text x="13.82" y="236.65" font-size="5.8">-10</text>
<text x="229.0" y="124.4" font-size="7.8">Frequency [Hz]</text>
<text x="229.2" y="258.6" font-size="7.8">Frequency [Hz]</text>
<rect x="274.5" y="10.60" width="78.6" height="21.9" fill="#fff" stroke="#707070" stroke-width="1.0"/>
<path d="M276.7 16.55H299.1" stroke="#6a64c8" stroke-width="1.3"/>
<path d="M276.7 26.55H299.1" stroke="#a07858" stroke-width="1.3"/>
<text x="301" y="19.45" font-size="6.3">YawBrTAxp</text>
<text x="301" y="29.45" font-size="6.3">YawBrTAxp DOF</text>
<rect x="274.5" y="144.60" width="78.6" height="22.3" fill="#fff" stroke="#707070" stroke-width="1.0"/>
<path d="M276.7 150.55H299.1" stroke="#7c7ce8" stroke-width="1.3"/>
<path d="M276.7 160.55H299.1" stroke="#c8aa98" stroke-width="1.3"/>
<text x="301" y="153.45" font-size="6.3">YawBrTAyp</text>
<text x="301" y="163.45" font-size="6.3">YawBrTAyp DOF</text>
<rect x="486" y="55" width="56.5" height="26.5" fill="#e8faff"/>
<path d="M486 55H542.5M486 81.5H542.5" stroke="#909090" stroke-width="1"/>
<text x="489.6" y="67.0" font-size="7.6" style="fill:#3a3a3a;stroke:none">X</text>
<text x="497.0" y="67.0" font-size="7.6" font-weight="bold" style="fill:#5a66cc;stroke:none">3.00781</text>
<text x="489.6" y="76.3" font-size="7.6" style="fill:#3a3a3a;stroke:none">Y</text>
<text x="497.0" y="76.4" font-size="7.6" font-weight="bold" style="fill:#5a66cc;stroke:none">1.06737e-08</text>
<path d="M485.2 92.5V85" stroke="#d01010" stroke-width="1.4"/>
<path d="M485.2 88.5V84.5" stroke="#2020e0" stroke-width="1.6"/>
<circle cx="485.1" cy="82.3" r="1.5" fill="#000"/>
</g>
</svg></body></html>
